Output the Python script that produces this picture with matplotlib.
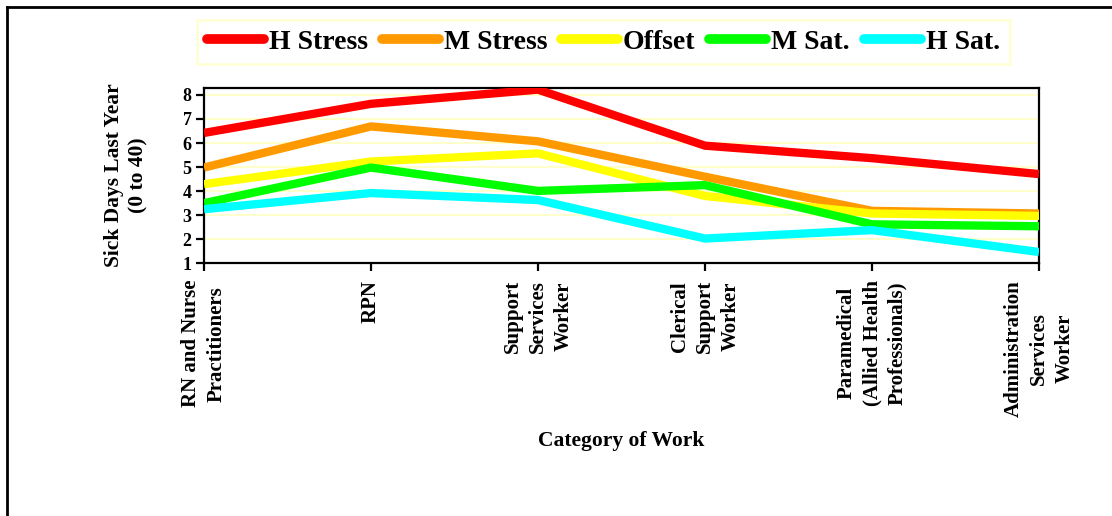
import matplotlib
matplotlib.use("Agg")
import matplotlib.pyplot as plt
from matplotlib.lines import Line2D

plt.rcParams['font.family'] = ['Liberation Serif', 'DejaVu Serif']
plt.rcParams['font.weight'] = 'bold'

categories = ["RN and Nurse\nPractitioners", "RPN", "Support\nServices\nWorker",
              "Clerical\nSupport\nWorker", "Paramedical\n(Allied Health\nProfessionals)",
              "Administration\nServices\nWorker"]
series_names = ["H Stress", "M Stress", "Offset", "M Sat.", "H Sat."]
h_stress = [6.42, 7.63, 8.22, 5.89, 5.37, 4.71]
m_stress = [4.98, 6.69, 6.07, 4.60, 3.18, 3.07]
offset = [4.29, 5.23, 5.57, 3.80, 3.07, 2.97]
m_sat = [3.50, 4.98, 4.01, 4.25, 2.62, 2.54]
h_sat = [3.25, 3.92, 3.63, 2.03, 2.38, 1.47]
colors = ["#FF0000", "#FF9900", "#FFFF00", "#00FF00", "#00FFFF"]
yticks = [1, 2, 3, 4, 5, 6, 7, 8]

W, H = 1112, 516
fig = plt.figure(figsize=(W / 100, H / 100), dpi=100)
ax = fig.add_axes([204 / W, 1 - 263.3 / H, (1039 - 204) / W, (263.3 - 87.7) / H])

x = list(range(len(categories)))
for name, vals, c in zip(series_names, [h_stress, m_stress, offset, m_sat, h_sat], colors):
    ax.plot(x, vals, color=c, lw=6, solid_joinstyle='round', solid_capstyle='butt',
            label=name, zorder=3)

ax.set_xlim(0, len(categories) - 1)
ax.set_ylim(1, 8.3)
ax.set_yticks(yticks)
ax.set_yticklabels([str(t) for t in yticks], fontsize=13, fontweight='bold')
ax.set_xticks(x)
ax.set_xticklabels(categories, rotation=90, fontsize=15, fontweight='bold',
                   ha='center', va='top', multialignment='center', linespacing=1.35)
ax.yaxis.grid(True, color="#FFFFCC", lw=1.5, zorder=0)
ax.set_axisbelow(True)
for s in ax.spines.values():
    s.set_linewidth(1.6)
    s.set_color('black')
ax.tick_params(axis='both', direction='out', length=6, width=1.6, color='black')
ax.tick_params(axis='x', pad=6)
ax.tick_params(axis='y', pad=3)

ax.set_ylabel("Sick Days Last Year\n(0 to 40)", fontsize=15.5, fontweight='bold',
              multialignment='center', linespacing=1.3)
ax.yaxis.set_label_coords((148 - 204) / (1039 - 204), 0.5)

fig.text(621.5 / W, 1 - 441 / H, "Category of Work", ha='center', va='center',
         fontsize=15.5, fontweight='bold')

handles = [Line2D([0], [0], color=c, lw=7, solid_capstyle='round') for c in colors]
leg = fig.legend(handles, series_names, loc='center', bbox_to_anchor=(603.5 / W, 1 - 42 / H),
                 ncol=5, prop={'weight': 'bold', 'size': 20}, frameon=True,
                 fancybox=False, handlelength=2.05, handletextpad=0.18, columnspacing=0.5,
                 borderpad=0.35, borderaxespad=0)
leg.get_frame().set_edgecolor("#FFFFCC")
leg.get_frame().set_linewidth(2)

# outer frame of the chart area
fig.add_artist(Line2D([7.3 / W, 1], [1 - 7.3 / H, 1 - 7.3 / H], color='black', lw=2,
                      transform=fig.transFigure))
fig.add_artist(Line2D([7.3 / W, 7.3 / W], [0, 1 - 7.3 / H], color='black', lw=2,
                      transform=fig.transFigure))

fig.savefig("out.png", dpi=100)
